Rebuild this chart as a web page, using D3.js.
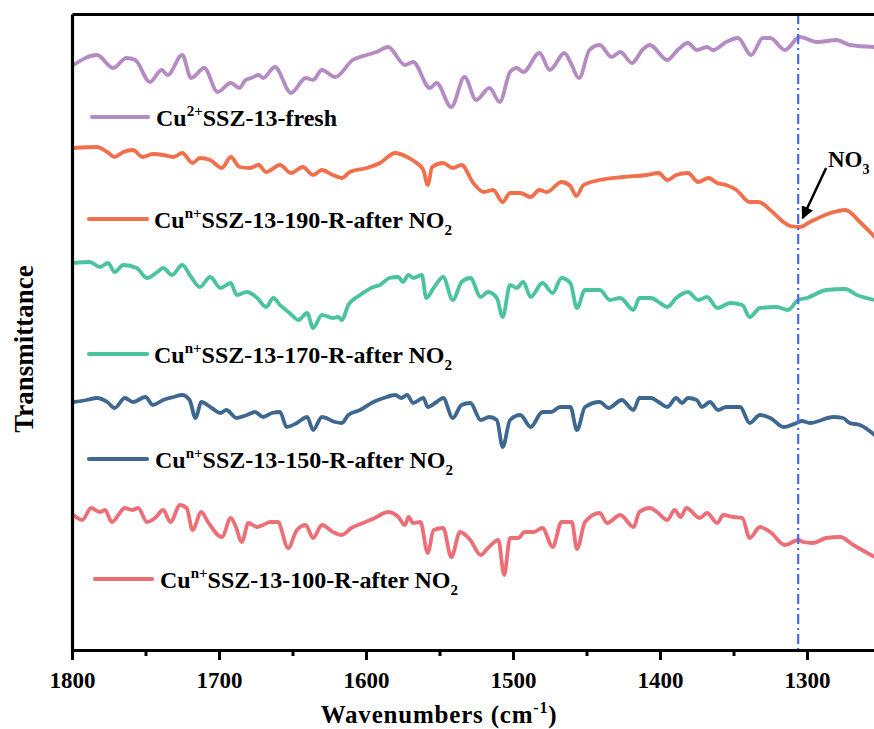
<!DOCTYPE html>
<html><head><meta charset="utf-8">
<script src="https://cdn.jsdelivr.net/npm/d3@7"></script>
<style>html,body{margin:0;padding:0;background:#fff;overflow:hidden}
svg text{font-family:"Liberation Serif","Tinos","Times New Roman","DejaVu Serif",serif;font-weight:bold}</style>
</head><body><svg id="c" width="874" height="729"></svg>
<script>
// ---------- data ----------
const xTicksMajor = [1800, 1700, 1600, 1500, 1400, 1300];
const xTicksMinor = [1750, 1650, 1550, 1450, 1350, 1250];
const nitrateBand = 1306;
const seriesNames = ["fresh", "190", "170", "150", "100"];
const seriesColors = ["#b48bc2", "#f26f4b", "#4cc3a0", "#3f6890", "#ec6f78"];

const freshData = [[1799,58.5],[1783,59.5],[1772,58.2],[1763,59.2],[1757,59.0],[1747,56.8],[1739,58.0],[1735,57.5],[1725,59.5],[1719,57.2],[1710,58.2],[1701,55.8],[1692,56.7],[1686,56.2],[1682,57.0],[1678,57.2],[1673,57.5],[1670,57.2],[1662,58.3],[1651,55.7],[1641,57.2],[1636,57.0],[1630,58.0],[1621,57.3],[1609,59.0],[1599.5,59.5],[1593,59.8],[1585,60.3],[1573.5,58.5],[1568,58.8],[1556.5,56.2],[1552,56.7],[1542,54.3],[1533,57.3],[1525,55.0],[1516,56.2],[1509,54.8],[1502,57.8],[1497.5,58.2],[1493,57.8],[1482,59.7],[1475,58.0],[1465,59.7],[1461,58.8],[1455,57.2],[1448,60.0],[1441,60.5],[1433,59.3],[1427,59.8],[1419,58.7],[1412,60.0],[1407,60.5],[1395,59.0],[1388,60.0],[1381,60.7],[1375,60.0],[1368,60.3],[1364,60.0],[1355,60.8],[1347,61.2],[1338,59.5],[1330,61.2],[1325,61.2],[1315,60.0],[1305,61.3],[1293,60.8],[1280,61.0],[1271,60.5],[1254,60.3]];

const r190Data = [[1799,50.2],[1783,50.3],[1776,49.8],[1771,49.3],[1765,49.8],[1758.5,50.0],[1752,49.3],[1745,49.6],[1738,49.5],[1731,49.3],[1725,49.7],[1718,48.7],[1713,49.2],[1706,49.0],[1698,48.2],[1692,49.3],[1686,48.3],[1679,48.2],[1673,48.5],[1668,47.8],[1658.5,48.5],[1651,47.7],[1643,48.3],[1636,47.5],[1630,48.0],[1622.5,47.5],[1616.5,47.2],[1611,47.8],[1599.5,48.2],[1590.5,48.7],[1580,49.7],[1572,49.3],[1565.5,48.7],[1561,48.0],[1558,46.5],[1555,48.3],[1547.5,48.7],[1541,48.2],[1535,48.5],[1527,46.7],[1520,45.8],[1513.5,46.0],[1507,44.8],[1502,45.7],[1495,45.7],[1488,45.3],[1482,46.0],[1477,45.8],[1467,46.8],[1461,46.4],[1457,45.4],[1452,46.5],[1441,47.0],[1425,47.3],[1409,47.5],[1401,47.7],[1395,47.0],[1389,47.5],[1381,47.7],[1374,46.8],[1367,47.2],[1361,46.7],[1355,46.5],[1348,46.0],[1339,44.8],[1333,44.8],[1325,44.0],[1316,42.8],[1311.5,42.4],[1305,42.3],[1298,42.8],[1284,43.7],[1274,44.0],[1264,42.8],[1254,41.3]];

const r170Data = [[1799,38.7],[1788,38.8],[1781,38.3],[1775.5,38.7],[1771,37.8],[1765,38.5],[1756,38.2],[1749,37.2],[1742,37.8],[1738,38.2],[1732,37.5],[1725,38.5],[1719,37.3],[1713,36.3],[1706,37.3],[1699,36.2],[1692,36.7],[1688,35.5],[1681,35.8],[1674,35.2],[1668,34.3],[1663,35.2],[1658.5,34.5],[1652,33.7],[1646,33.0],[1640,33.7],[1636,32.2],[1630,33.5],[1622.5,33.2],[1619,33.3],[1616.5,33.0],[1612,34.5],[1604,35.5],[1595,36.3],[1590.5,36.5],[1584,37.2],[1578,37.3],[1575,36.8],[1571,37.5],[1568,37.2],[1562,37.5],[1559,35.2],[1554,36.2],[1547.5,37.3],[1541,35.0],[1535,36.8],[1529,37.2],[1522,35.3],[1517,35.8],[1511,35.2],[1507,33.3],[1502,36.5],[1497.5,36.2],[1493,36.8],[1488,35.3],[1480,36.7],[1473,35.7],[1467,37.2],[1461,36.7],[1456.5,34.2],[1451,36.0],[1441,36.0],[1434,35.0],[1427,35.2],[1418,34.0],[1414,35.2],[1406,35.2],[1400,34.7],[1395,34.3],[1389,35.2],[1381,35.8],[1374,35.0],[1368,35.3],[1361,34.2],[1352,34.7],[1344,34.5],[1339,33.3],[1332,34.2],[1320.5,34.3],[1313,34.0],[1306,35.0],[1300,35.2],[1287,36.0],[1274,36.1],[1266,35.5],[1254,35.0]];

const r150Data = [[1799,24.8],[1790,25.0],[1783,25.2],[1776,24.8],[1771,24.2],[1764,25.2],[1758.5,24.8],[1750,25.3],[1745,24.5],[1738,25.0],[1731,25.3],[1725,25.5],[1720,25.0],[1716,23.2],[1712,24.8],[1705,24.2],[1699,23.7],[1695,24.0],[1688,23.2],[1681,23.5],[1675.5,23.8],[1670,23.3],[1664,23.7],[1658.5,23.8],[1654,22.3],[1647,22.7],[1640,23.3],[1636,22.0],[1630,23.3],[1621,22.8],[1616.5,22.7],[1612,23.5],[1604,24.0],[1595,24.8],[1588,25.2],[1580,25.5],[1576,25.2],[1572,25.5],[1568,24.7],[1561,25.2],[1558,24.3],[1552,24.8],[1547.5,25.2],[1541,23.2],[1535,24.5],[1529,24.7],[1522,23.0],[1516,23.3],[1511,23.0],[1507,20.3],[1502,23.0],[1495,23.5],[1488,22.3],[1480,23.8],[1474,23.8],[1468,24.3],[1461,24.3],[1456.5,22.0],[1451,24.3],[1441,24.8],[1435,24.2],[1426,25.0],[1418,24.0],[1414,25.2],[1406,25.2],[1401,24.8],[1395,24.3],[1389,25.2],[1385,24.7],[1381,25.2],[1375,25.0],[1371.5,24.3],[1366,24.8],[1360.5,24.0],[1355,24.3],[1345.5,24.3],[1339,22.7],[1332,23.5],[1325,23.2],[1316,22.3],[1307,22.7],[1303.5,22.9],[1298,22.7],[1282,23.3],[1275.5,23.2],[1271,22.7],[1264,22.5],[1254,21.5]];

const r100Data = [[1799,13.5],[1793,13.0],[1787,14.2],[1781,13.8],[1777.5,14.0],[1773,12.8],[1764,14.2],[1759,14.0],[1755,14.2],[1749,12.8],[1743.5,13.2],[1738,14.0],[1733,12.8],[1726.5,14.5],[1722,14.2],[1718,12.0],[1712,13.8],[1707.5,12.8],[1698,11.3],[1692,13.2],[1689,12.5],[1684.5,10.8],[1680,12.7],[1674,12.3],[1670,12.5],[1665,12.8],[1660,12.8],[1653,10.2],[1647,12.0],[1641,12.5],[1636,11.2],[1630,12.5],[1622.5,11.8],[1616.5,11.5],[1610,12.2],[1602,12.7],[1594,13.2],[1585,13.8],[1578,13.3],[1573.5,12.5],[1571,13.3],[1568,12.7],[1563,12.8],[1558,9.7],[1554,12.0],[1547.5,12.2],[1542,9.3],[1536,11.8],[1529,11.0],[1522,9.5],[1517,10.2],[1510,11.0],[1506,7.5],[1502,11.2],[1496.5,11.2],[1492,11.8],[1486,11.8],[1480,12.2],[1473,10.3],[1467,12.8],[1460,12.8],[1456.5,10.1],[1451,12.8],[1441,13.7],[1436,12.7],[1427,13.5],[1418,12.3],[1414,13.8],[1407,14.2],[1402,13.8],[1395,13.0],[1390,14.0],[1386,13.3],[1382,14.2],[1373,13.2],[1368,13.7],[1361,12.7],[1357,13.5],[1350,13.3],[1344,13.2],[1339,11.2],[1332,12.3],[1325,11.8],[1315,10.5],[1306,11.0],[1302.5,10.8],[1296,10.7],[1287,11.2],[1277.5,11.3],[1268.5,10.5],[1254,9.3]];

const allSeries = [freshData, r190Data, r170Data, r150Data, r100Data];

// ---------- layout ----------
const svg = d3.select("#c");
const plot = {left: 72, right: 880.5, top: 14, bottom: 650};
const x = d3.scaleLinear().domain([1800, 1250]).range([plot.left, plot.right]);
const y = d3.scaleLinear().domain([0, 63.6]).range([plot.bottom, plot.top]);

svg.append("rect").attr("width", 874).attr("height", 729).attr("fill", "#fff");

// curves
const line = d3.line().x(d => x(d[0])).y(d => y(d[1])).curve(d3.curveMonotoneX);
allSeries.forEach((s, i) => {
  svg.append("path").datum(s).attr("d", line)
    .attr("fill", "none").attr("stroke", seriesColors[i])
    .attr("stroke-width", 3.8).attr("stroke-linejoin", "round").attr("stroke-linecap", "round");
});

// dash-dot marker
svg.append("line")
  .attr("x1", x(nitrateBand)).attr("x2", x(nitrateBand))
  .attr("y1", plot.top).attr("y2", plot.bottom)
  .attr("stroke", "#4a68ef").attr("stroke-width", 2.2)
  .attr("stroke-dasharray", "10,4,2,4");

// axes
const xAxis = d3.axisBottom(x).tickValues(xTicksMajor).tickSize(10).tickSizeOuter(0)
  .tickPadding(12).tickFormat(d3.format("d"));
const gx = svg.append("g").attr("transform", `translate(0,${plot.bottom})`).call(xAxis);
gx.attr("font-family", null);
gx.select(".domain").attr("stroke", "#000").attr("stroke-width", 3.2);
gx.selectAll(".tick line").attr("stroke", "#000").attr("stroke-width", 3);
gx.selectAll(".tick text").attr("font-size", 23).attr("fill", "#000");

const xMinor = d3.axisBottom(x).tickValues(xTicksMinor).tickSize(6).tickSizeOuter(0).tickFormat("");
const gxm = svg.append("g").attr("transform", `translate(0,${plot.bottom})`).call(xMinor);
gxm.select(".domain").remove();
gxm.selectAll(".tick line").attr("stroke", "#000").attr("stroke-width", 3);

const yAxis = d3.axisLeft(y).tickValues([]).tickSizeOuter(0);
const gy = svg.append("g").attr("transform", `translate(${plot.left},0)`).call(yAxis);
gy.select(".domain").attr("stroke", "#000").attr("stroke-width", 3.2);

// top frame
const xTop = d3.axisTop(x).tickValues([]).tickSizeOuter(0);
const gt = svg.append("g").attr("transform", `translate(0,${plot.top})`).call(xTop);
gt.select(".domain").attr("stroke", "#000").attr("stroke-width", 3.2);

// axis titles
const xt = svg.append("text").attr("x", 439).attr("y", 723).attr("text-anchor", "middle")
  .attr("font-size", 25).attr("letter-spacing", 0.8).attr("fill", "#000");
xt.append("tspan").text("Wavenumbers (cm");
xt.append("tspan").attr("font-size", 16).attr("dy", -10).text("-1");
xt.append("tspan").attr("dy", 10).text(")");

svg.append("text").attr("transform", "translate(33,349) rotate(-90)")
  .attr("text-anchor", "middle")
  .attr("font-size", 27).attr("fill", "#000").text("Transmittance");

// legend labels
const legendItems = [
  {x1: 92, x2: 148, ly: 117, tx: 156, ty: 126, sup: "2+", rest: "SSZ-13-fresh", sub: null},
  {x1: 89, x2: 147, ly: 219, tx: 154, ty: 228, sup: "n+", rest: "SSZ-13-190-R-after NO", sub: "2"},
  {x1: 89, x2: 147, ly: 354, tx: 154, ty: 363, sup: "n+", rest: "SSZ-13-170-R-after NO", sub: "2"},
  {x1: 89, x2: 147, ly: 459, tx: 155, ty: 468, sup: "n+", rest: "SSZ-13-150-R-after NO", sub: "2"},
  {x1: 95, x2: 152, ly: 579, tx: 160, ty: 588, sup: "n+", rest: "SSZ-13-100-R-after NO", sub: "2"}
];
legendItems.forEach((it, i) => {
  svg.append("line").attr("x1", it.x1).attr("x2", it.x2).attr("y1", it.ly).attr("y2", it.ly)
    .attr("stroke", seriesColors[i]).attr("stroke-width", 4.2).attr("stroke-linecap", "round");
  const t = svg.append("text").attr("x", it.tx).attr("y", it.ty)
    .attr("font-size", 24).attr("fill", "#000");
  t.append("tspan").text("Cu");
  t.append("tspan").attr("font-size", 15).attr("dy", -10).text(it.sup);
  t.append("tspan").attr("dy", 10).text(it.rest);
  if (it.sub) t.append("tspan").attr("font-size", 15).attr("dy", 7).text(it.sub);
});

// NO3 annotation
svg.append("defs").append("marker").attr("id", "ah").attr("viewBox", "0 0 10 10")
  .attr("refX", 9).attr("refY", 5).attr("markerWidth", 5).attr("markerHeight", 5)
  .attr("orient", "auto").append("path").attr("d", "M0,0L10,5L0,10z").attr("fill", "#000");
svg.append("line").attr("x1", x(1287)).attr("y1", 168).attr("x2", x(1303)).attr("y2", 218)
  .attr("stroke", "#000").attr("stroke-width", 2.5).attr("marker-end", "url(#ah)");
const nt = svg.append("text").attr("x", 828).attr("y", 167)
  .attr("font-size", 23).attr("fill", "#000");
nt.append("tspan").text("NO");
nt.append("tspan").attr("font-size", 14).attr("dy", 7).text("3");
</script></body></html>
